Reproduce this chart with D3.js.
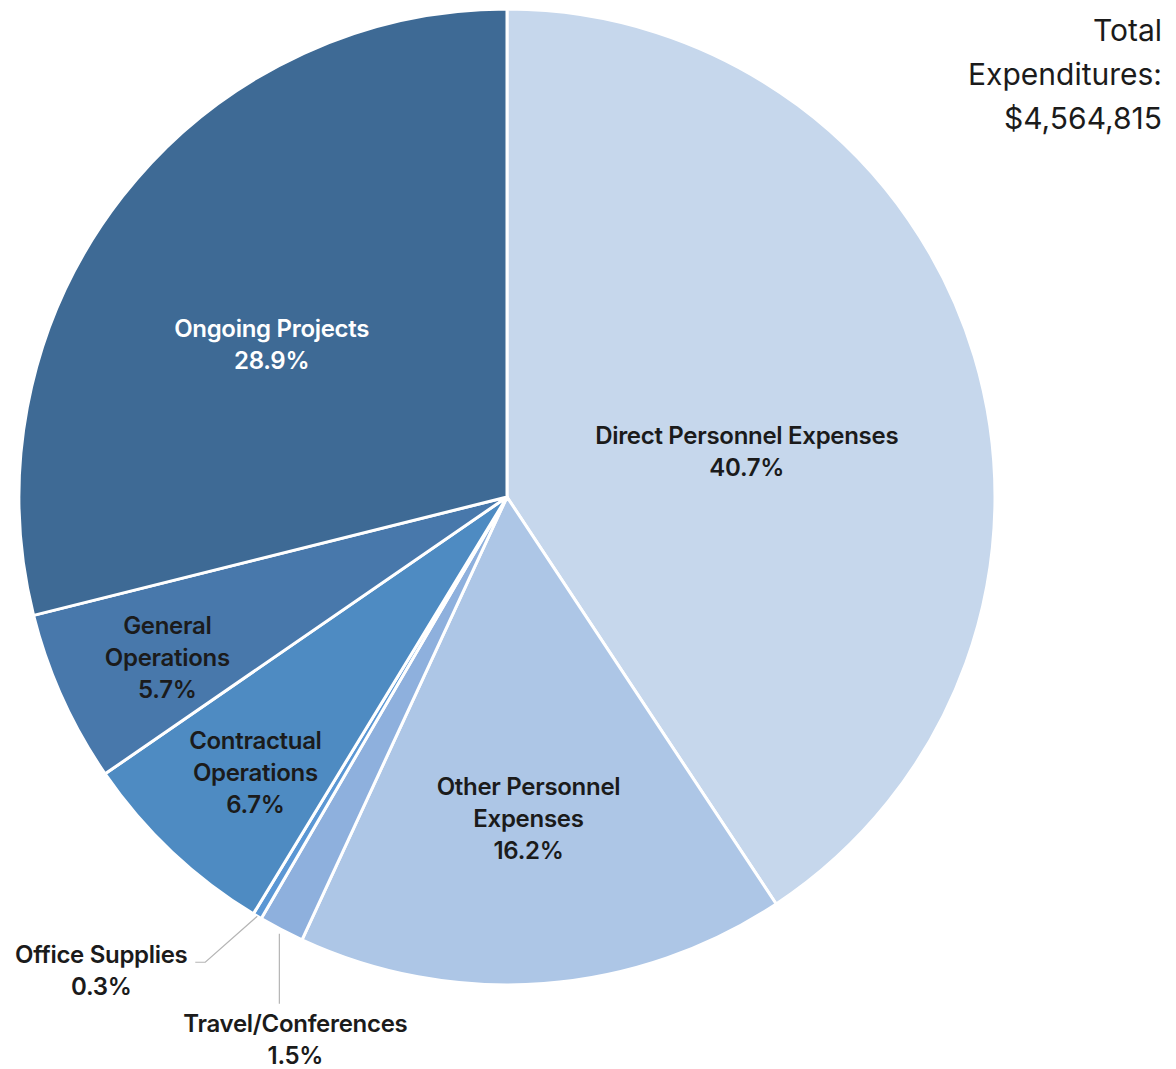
<!DOCTYPE html>
<html>
<head>
<meta charset="utf-8">
<script src="https://cdn.jsdelivr.net/npm/d3@7"></script>
<style>
  html, body { margin: 0; padding: 0; background: #fff; }
  svg text { font-family: Inter, "Noto Sans", sans-serif; }
</style>
</head>
<body>
<div id="chart-area"></div>
<script>
const categories = ["Direct Personnel Expenses", "Other Personnel Expenses", "Travel/Conferences",
  "Office Supplies", "Contractual Operations", "General Operations", "Ongoing Projects"];
const shares = [40.7, 16.2, 1.5, 0.3, 6.7, 5.7, 28.9];
const colors = ["#c6d7ec", "#adc6e6", "#8eb0dd", "#5b97d4", "#4e8bc2", "#4878ab", "#3e6a95"];
const totalLabel = ["Total", "Expenditures:", "$4,564,815"];

// how each label is broken into lines and placed (radius fraction, angle shift in deg)
const labelLines = [
  ["Direct Personnel Expenses"], ["Other Personnel", "Expenses"], ["Travel/Conferences"],
  ["Office Supplies"], ["Contractual", "Operations"], ["General", "Operations"], ["Ongoing Projects"]
];
const labelPlace = [
  { r: 0.5, da: 6 }, { r: 0.66, da: 0.5 }, { outside: "down" },
  { outside: "left" }, { r: 0.765, da: -1 }, { r: 0.77, da: -1 }, { r: 0.575, da: -5 }
];

const width = 1176, height = 1069;
const cx = 507, cy = 497, radius = 488;

const svg = d3.select("#chart-area")
  .append("svg")
    .attr("width", width)
    .attr("height", height);

const g = svg.append("g")
    .attr("transform", `translate(${cx},${cy})`);

const data = categories.map((c, i) => ({ name: c, value: shares[i], i }));

const pie = d3.pie()
  .sort(null)
  .value(d => d.value);

const arc = d3.arc()
  .innerRadius(0)
  .outerRadius(radius);

const arcs = pie(data);

g.selectAll(".slice")
  .data(arcs)
  .enter()
  .append("path")
    .attr("class", "slice")
    .attr("d", arc)
    .attr("fill", d => colors[d.data.i])
    .attr("stroke", "#fff")
    .attr("stroke-width", 3)
    .attr("stroke-linejoin", "round");

function polar(r, a) {
  return [r * Math.sin(a), -r * Math.cos(a)];
}

const lineH = 32;

function addLabel(lines, x, y0, fill) {
  const t = g.append("text")
      .attr("text-anchor", "middle")
      .attr("fill", fill)
      .style("font-size", "24px")
      .style("font-weight", 600)
      .style("letter-spacing", "-0.3px");
  lines.forEach((l, k) => {
    t.append("tspan")
        .attr("x", x)
        .attr("y", y0 + k * lineH)
        .attr("dy", "0.35em")
        .text(l);
  });
}

arcs.forEach(d => {
  const p = labelPlace[d.data.i];
  const mid = (d.startAngle + d.endAngle) / 2;
  const lines = labelLines[d.data.i].concat([d.data.value.toFixed(1) + "%"]);
  const fill = d.data.i === 6 ? "#fff" : "#1b1b1b";

  if (!p.outside) {
    const [x, y] = polar(radius * p.r, mid + p.da * Math.PI / 180);
    addLabel(lines, x, y - (lines.length - 1) * lineH / 2, fill);
  } else {
    const [ex, ey] = polar(radius, mid);
    let pts, tx, ty;
    if (p.outside === "left") {
      pts = [[ex, ey], [ex - 52, ey + 46], [ex - 62, ey + 46]];
      tx = ex - 156; ty = ey + 38;
    } else {
      pts = [[ex - 2, ey + 4], [ex - 2, ey + 74]];
      tx = ex + 14; ty = ey + 94;
    }
    g.append("path")
        .attr("d", d3.line()(pts))
        .attr("fill", "none")
        .attr("stroke", "#b5b5b5")
        .attr("stroke-width", 1.2);
    addLabel(lines, tx, ty, fill);
  }
});

const title = svg.append("text")
    .attr("text-anchor", "end")
    .attr("fill", "#1b1b1b")
    .style("font-size", "30px")
    .style("font-weight", 400);
totalLabel.forEach((l, k) => {
  title.append("tspan")
      .attr("x", 1162)
      .attr("y", 41 + k * 44)
      .text(l);
});
</script>
</body>
</html>
